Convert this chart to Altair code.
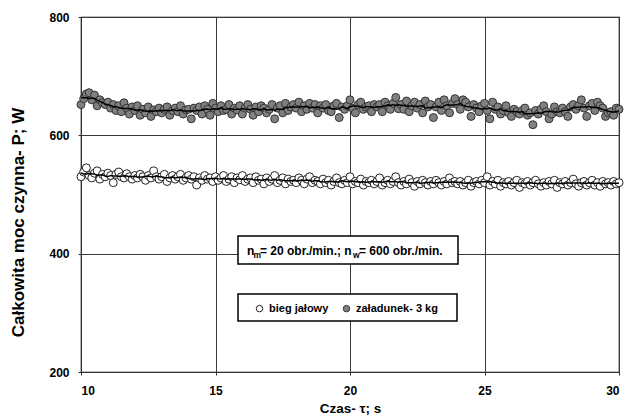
import altair as alt
import pandas as pd

series_names = ["bieg jałowy", "załadunek- 3 kg"]

times = [round(10 + 0.1 * i, 1) for i in range(201)]

idle = [
    530, 538, 545, 532, 528, 536, 540, 526, 534, 530,
    536, 532, 520, 534, 538, 530, 528, 535, 530, 526,
    532, 528, 534, 530, 524, 532, 528, 540, 530, 526,
    530, 534, 522, 528, 532, 526, 530, 534, 524, 528,
    532, 526, 530, 516, 528, 524, 532, 526, 528, 522,
    530, 524, 528, 532, 522, 526, 530, 520, 528, 525,
    532, 522, 526, 528, 520, 530, 524, 526, 518, 528,
    522, 526, 532, 520, 524, 528, 518, 526, 522, 524,
    520, 528, 524, 518, 526, 530, 520, 524, 522, 518,
    526, 520, 524, 516, 522, 528, 520, 518, 524, 520,
    530, 518, 522, 520, 526, 516, 522, 520, 524, 518,
    522, 528, 516, 520, 524, 518, 522, 530, 520, 516,
    522, 518, 526, 520, 514, 522, 518, 524, 520, 516,
    522, 518, 524, 520, 516, 522, 518, 528, 520, 522,
    518, 522, 516, 520, 524, 514, 520, 522, 518, 524,
    520, 530, 516, 522, 518, 524, 514, 520, 518, 522,
    516, 520, 524, 512, 520, 518, 522, 516, 520, 524,
    518, 514, 520, 516, 522, 518, 524, 512, 520, 518,
    522, 516, 520, 526, 518, 514, 520, 522, 516, 520,
    524, 516, 520, 514, 522, 518, 520, 516, 522, 518,
    520,
]

loaded = [
    652, 662, 670, 672, 660, 668, 650, 660, 655, 652,
    656, 646, 652, 642, 650, 640, 655, 646, 636, 648,
    642, 650, 634, 644, 638, 648, 632, 643, 640, 646,
    638, 644, 648, 634, 642, 646, 640, 650, 636, 643,
    644, 628, 646, 642, 648, 636, 650, 644, 634, 654,
    646, 640, 650, 642, 644, 652, 636, 646, 643, 650,
    636, 646, 652, 644, 634, 648, 640, 650, 646, 638,
    644, 652, 628, 646, 650, 638, 654, 642, 648, 652,
    646, 656, 640, 650, 644, 654, 646, 652, 638, 650,
    646, 652, 642, 640, 650, 654, 630, 648, 644, 650,
    660, 646, 638, 652, 656, 644, 648, 650, 640, 652,
    648, 652, 640, 656, 650, 644, 654, 664, 645, 652,
    644, 658, 640, 650, 656, 646, 652, 638, 658, 648,
    652, 630, 648, 656, 642, 660, 650, 638, 654, 662,
    652, 644, 660, 656, 648, 632, 652, 646, 640, 650,
    654, 642, 628, 656, 644, 648, 636, 642, 650, 638,
    632, 644, 640, 636, 642, 646, 634, 638, 618, 642,
    636, 644, 650, 640, 628, 636, 648, 640, 638, 646,
    640, 632, 648, 652, 644, 650, 660, 646, 632, 650,
    654, 642, 656, 650, 646, 632, 638, 640, 634, 646,
    644,
]

x_ticks = [10, 15, 20, 25, 30]
y_ticks = [200, 400, 600, 800]

df = pd.DataFrame({
    "t": times * 2,
    "P": idle + loaded,
    "series": [series_names[0]] * len(times) + [series_names[1]] * len(times),
})

FONT = "Liberation Sans"

axis_style = dict(
    labelFont=FONT, labelFontSize=12, labelFontWeight="bold", labelColor="black",
    titleFont=FONT, titleFontWeight="bold", titleColor="black",
    grid=True, gridColor="#3a3a3a", gridWidth=1, gridOpacity=1,
    domainColor="#333333", domainWidth=1, tickColor="#333333", tickSize=3,
)

x_enc = alt.X("t:Q", scale=alt.Scale(domain=[10, 30], nice=False),
              axis=alt.Axis(values=x_ticks, title="Czas- τ; s", format="d",
                            titleFontSize=13.5, labelPadding=10, titlePadding=5,
                            **axis_style))
y_enc = alt.Y("P:Q", scale=alt.Scale(domain=[200, 800], nice=False),
              axis=alt.Axis(values=y_ticks, title="Całkowita moc czynna- P; W",
                            format="d", titleFontSize=17, labelPadding=9,
                            titleX=-63, titleY=205, titleBaseline="middle",
                            titleAngle=270, **axis_style))

base = alt.Chart(df).encode(x=x_enc, y=y_enc)

points = base.mark_circle(size=64, opacity=1, strokeWidth=1).encode(
    fill=alt.Fill("series:N",
                  scale=alt.Scale(domain=series_names, range=["white", "#808080"]),
                  legend=alt.Legend(
                      title=None, orient="none", legendX=173, legendY=286,
                      direction="horizontal", labelFont=FONT, labelFontSize=11,
                      labelFontWeight="bold", labelColor="black",
                      symbolType="circle", symbolSize=42,
                      symbolStrokeColor="#222222", symbolStrokeWidth=1,
                      columnPadding=12, labelOffset=4, padding=0)),
    stroke=alt.Stroke("series:N",
                      scale=alt.Scale(domain=series_names, range=["#222222", "#333333"]),
                      legend=None),
)

lines = base.transform_window(
    ma="mean(P)", frame=[-3, 3], groupby=["series"], sort=[{"field": "t"}]
).mark_line(color="black", strokeWidth=1.5).encode(
    y=alt.Y("ma:Q"), detail="series:N"
)

one = pd.DataFrame({"a": [0]})

ann_box = alt.Chart(one).mark_rect(fill="white", stroke="black", strokeWidth=1.5).encode(
    x=alt.value(157), x2=alt.value(377), y=alt.value(219), y2=alt.value(247))
leg_box = alt.Chart(one).mark_rect(fill="white", stroke="black", strokeWidth=1.5).encode(
    x=alt.value(157), x2=alt.value(376), y=alt.value(277), y2=alt.value(304))

ann_parts = [
    ("n", 166, 238, 12),
    ("m", 172.5, 241, 8.5),
    ("= 20 obr./min.; n", 179, 238, 12),
    ("w", 272, 241, 8.5),
    ("= 600 obr./min.", 278, 238, 12),
]
texts = []
for s, xx, yy, fs in ann_parts:
    texts.append(
        alt.Chart(one).mark_text(text=s, align="left", baseline="alphabetic",
                                 font=FONT, fontSize=fs, fontWeight="bold",
                                 color="black").encode(x=alt.value(xx), y=alt.value(yy))
    )

chart = alt.layer(points, lines, ann_box, leg_box, *texts).properties(
    width=538, height=355,
    background="white",
    autosize=alt.AutoSizeParams(type="none"),
    padding={"left": 81, "top": 17, "right": 8, "bottom": 46},
).configure_view(stroke="black", strokeWidth=1.2)

chart.save("out.html", embed_options={"renderer": "svg", "actions": False})
